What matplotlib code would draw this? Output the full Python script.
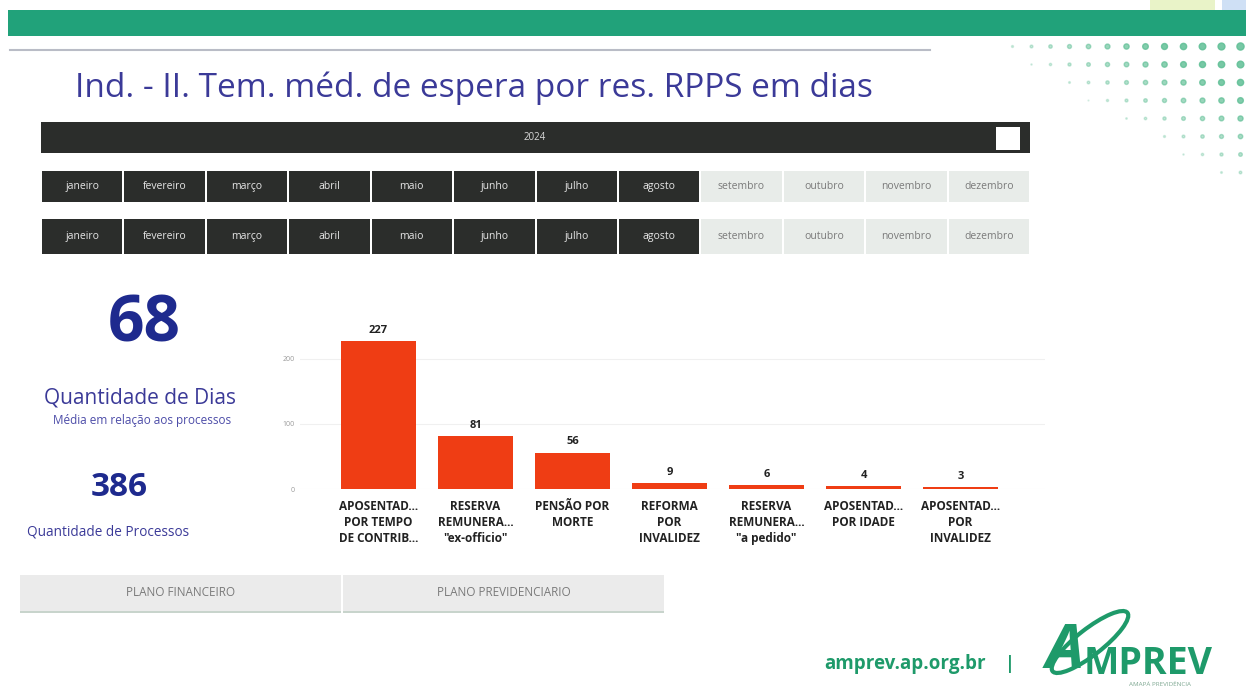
import matplotlib
matplotlib.use("Agg")
import matplotlib.pyplot as plt
import numpy as np
from matplotlib.patches import Rectangle, Ellipse
from matplotlib.transforms import IdentityTransform

plt.rcParams["font.family"] = ["Open Sans", "DejaVu Sans"]

W, H = 1246, 690

title = "Ind. - II. Tem. méd. de espera por res. RPPS em dias"
year = "2024"
months = ["janeiro", "fevereiro", "março", "abril", "maio", "junho",
          "julho", "agosto", "setembro", "outubro", "novembro", "dezembro"]
n_selected = 8
categories = ["APOSENTAD...\nPOR TEMPO\nDE CONTRIB...",
              "RESERVA\nREMUNERA...\n\"ex-officio\"",
              "PENSÃO POR\nMORTE",
              "REFORMA\nPOR\nINVALIDEZ",
              "RESERVA\nREMUNERA...\n\"a pedido\"",
              "APOSENTAD...\nPOR IDADE",
              "APOSENTAD...\nPOR\nINVALIDEZ"]
values = [227, 81, 56, 9, 6, 4, 3]
yticks = [0, 100, 200]
kpi_days = "68"
kpi_procs = "386"
plans = ["PLANO FINANCEIRO", "PLANO PREVIDENCIARIO"]


def fx(px):
    return px / W


def fy(py):
    return 1 - py / H


def rect(fig, x0, y0, x1, y1, **kw):
    fig.patches.append(Rectangle((fx(x0), fy(y1)), fx(x1) - fx(x0), fy(y0) - fy(y1),
                                 transform=fig.transFigure, **kw))


fig = plt.figure(figsize=(W / 100, H / 100), dpi=100)
fig.patch.set_facecolor("white")

# header band and decorations
rect(fig, 8, 10, W, 36, facecolor="#21a27a", edgecolor="none")
rect(fig, 1150, 0, 1215, 10, facecolor="#e9f3c8", edgecolor="none")
rect(fig, 1222, 0, W, 10, facecolor="#cfe0f5", edgecolor="none")
for r in range(8):
    for c in range(16):
        x = 955 + c * 19
        y = 46 + r * 18
        strength = (c - r * 1.6 - 2) / 14
        if strength <= 0 or x > W:
            continue
        s = min(strength, 1.0) * 20
        fig.add_artist(plt.Line2D([fx(x)], [fy(y)], marker="o", markersize=np.sqrt(s) * 1.2,
                                  color="#5fbf95", alpha=min(0.2 + strength, 0.85),
                                  linestyle="none", transform=fig.transFigure))

fig.add_artist(plt.Line2D([fx(10), fx(930)], [fy(50), fy(50)], color="#b9bcc6",
                          linewidth=1.5, transform=fig.transFigure))
fig.text(fx(75), fy(88), title, fontsize=24, color="#3b3a98", va="center", ha="left")

# year bar
rect(fig, 41, 122, 1030, 153, facecolor="#2b2d2b", edgecolor="none")
rect(fig, 996, 127, 1020, 150, facecolor="white", edgecolor="none")
fig.text(fx(535), fy(138), year, fontsize=7, color="#d9d9d9", ha="center", va="center")

# month slicers
cell_w = (1030 - 41) / 12
for row_y0, row_y1 in [(171, 202), (219, 254)]:
    for i, m in enumerate(months):
        x0 = 41 + i * cell_w
        on = i < n_selected
        rect(fig, x0 + 1, row_y0, x0 + cell_w - 1, row_y1,
             facecolor="#2b2d2b" if on else "#e8ece9", edgecolor="none")
        fig.text(fx(x0 + cell_w / 2), fy((row_y0 + row_y1) / 2), m, fontsize=7.5,
                 color="#e6e6e6" if on else "#7a7a7a", ha="center", va="center")

# KPI cards
fig.text(fx(144), fy(325), kpi_days, fontsize=46, fontweight="bold", color="#1e2a8e",
         ha="center", va="center")
fig.text(fx(140), fy(398), "Quantidade de Dias", fontsize=15, color="#3b3a98",
         ha="center", va="center")
fig.text(fx(142), fy(421), "Média em relação aos processos", fontsize=8.5, color="#4c4ca8",
         ha="center", va="center")
fig.text(fx(119), fy(487), kpi_procs, fontsize=24, fontweight="bold", color="#1e2a8e",
         ha="center", va="center")
fig.text(fx(108), fy(532), "Quantidade de Processos", fontsize=9.8, color="#3b3a98",
         ha="center", va="center")

# bar chart
ax = fig.add_axes([fx(300), fy(489), fx(1045) - fx(300), fy(310) - fy(489)])
x = np.arange(len(values))
ax.bar(x, values, width=0.77, color="#ef3d14")
for xi, v in zip(x, values):
    ax.text(xi, v + 8, str(v), ha="center", va="bottom", fontsize=8,
            fontweight="bold", color="#222222")
ax.set_xlim(-0.81, 6.87)
ax.set_ylim(0, 275)
ax.set_yticks(yticks)
ax.set_yticklabels([str(t) for t in yticks], fontsize=5, color="#9a9a9a")
ax.set_xticks(x)
ax.set_xticklabels(categories, fontsize=8.5, fontweight="bold", color="#222222",
                   linespacing=1.3, va="top")
ax.tick_params(length=0, axis="both")
ax.tick_params(axis="x", pad=8)
ax.tick_params(axis="y", pad=4)
ax.grid(axis="y", color="#f0f0f0", linewidth=0.8)
ax.set_axisbelow(True)
for s in ax.spines.values():
    s.set_visible(False)

# plan buttons
for i, p in enumerate(plans):
    x0 = 20 + i * 323
    rect(fig, x0, 575, x0 + 321, 612, facecolor="#ebebeb", edgecolor="none")
    rect(fig, x0, 611, x0 + 321, 613, facecolor="#c8d4cc", edgecolor="none")
    fig.text(fx(x0 + 161), fy(592), p, fontsize=8.5, color="#7a7a7a", ha="center", va="center")

# footer
fig.text(fx(905), fy(664), "amprev.ap.org.br", fontsize=13.5, fontweight="bold",
         color="#1e9a6a", ha="center", va="center")
fig.text(fx(1010), fy(664), "|", fontsize=13, fontweight="bold", color="#1e9a6a",
         ha="center", va="center")
fig.patches.append(Ellipse((1090, H - 642), 95, 26, angle=38, fill=False,
                           edgecolor="#1e9a6a", linewidth=3, transform=IdentityTransform()))
fig.text(fx(1046), fy(652), "A", fontsize=44, fontweight="bold", fontstyle="italic",
         color="#1e9a6a", ha="left", va="center")
fig.text(fx(1084), fy(664), "MPREV", fontsize=27, fontweight="bold", color="#1e9a6a",
         ha="left", va="center")
fig.text(fx(1160), fy(684), "AMAPÁ PREVIDÊNCIA", fontsize=4.5, color="#7fa892",
         ha="center", va="center")

fig.savefig("out.png", dpi=100)
